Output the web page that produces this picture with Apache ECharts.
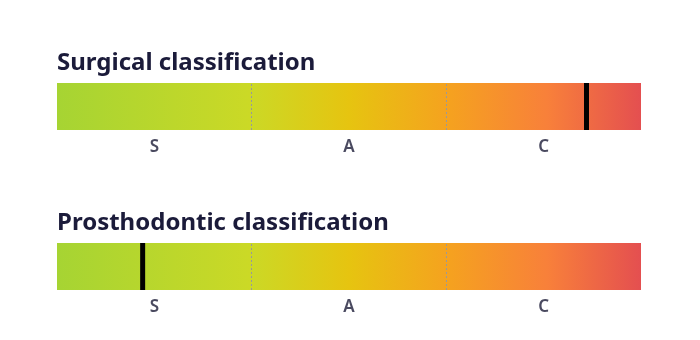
<!DOCTYPE html>
<html><head><meta charset="utf-8">
<script src="https://cdn.jsdelivr.net/npm/echarts@6/dist/echarts.min.js"></script>
<style>html,body{margin:0;padding:0;background:#fff}#c{width:700px;height:340px}</style>
</head><body><div id="c"></div>
<script>
const titles = ['Surgical classification', 'Prosthodontic classification'];
const classes = ['S', 'A', 'C'];
const markerValues = [2.72, 0.44];   // position on 0..3 scale
const scaleMax = 3;
const dividers = [1, 2];
const gradientStops = [
  {offset: 0, color: '#a6d433'},
  {offset: 0.33, color: '#cbd926'},
  {offset: 0.5, color: '#e6c410'},
  {offset: 0.67, color: '#f5a21f'},
  {offset: 0.84, color: '#f8803a'},
  {offset: 1, color: '#e44f50'}
];

const chart = echarts.init(document.getElementById('c'));
const font = '"Noto Sans", sans-serif';
const gridTops = [83, 243];
const grids = [], xAxes = [], yAxes = [], series = [], titleArr = [];
titles.forEach((t, i) => {
  grids.push({left: 57, right: 59, top: gridTops[i], height: 47});
  titleArr.push({text: t, left: 52, top: gridTops[i] - 37,
    textStyle: {fontFamily: font, fontWeight: 'bold', fontSize: 24, color: '#1b1b3a'}});
  xAxes.push({type: 'value', gridIndex: i, min: 0, max: scaleMax, show: false});
  xAxes.push({type: 'category', gridIndex: i, data: classes, position: 'bottom',
    axisLine: {show: false}, axisTick: {show: false}, splitLine: {show: false},
    axisLabel: {margin: 9, fontFamily: font, fontSize: 17, fontWeight: 600, color: '#4a4a60'}});
  yAxes.push({type: 'category', gridIndex: i, data: [''], show: false});
  series.push({type: 'bar', xAxisIndex: i * 2, yAxisIndex: i, data: [scaleMax],
    barWidth: 47, silent: true,
    itemStyle: {color: new echarts.graphic.LinearGradient(0, 0, 1, 0, gradientStops)},
    markLine: {symbol: 'none', silent: true, label: {show: false}, z: 3,
      lineStyle: {type: [2, 2], color: '#999999', width: 1, opacity: 1},
      data: dividers.map(d => ({xAxis: d}))}});
  series.push({type: 'scatter', xAxisIndex: i * 2, yAxisIndex: i, z: 5, silent: true,
    data: [[markerValues[i], '']], symbol: 'rect', symbolSize: [5, 47],
    itemStyle: {color: '#000', opacity: 1}});
});
chart.setOption({animation: false, title: titleArr, grid: grids, xAxis: xAxes, yAxis: yAxes, series});
</script></body></html>
